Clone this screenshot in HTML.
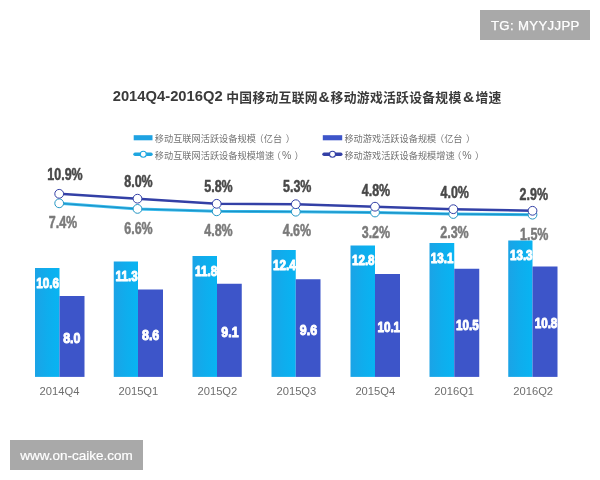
<!DOCTYPE html>
<html lang="zh"><head><meta charset="utf-8"><title>chart</title>
<style>
html,body{margin:0;padding:0;background:#fff;}
body{width:600px;height:480px;overflow:hidden;position:relative;font-family:"Liberation Sans","Noto Sans CJK SC",sans-serif;}
svg{position:absolute;left:0;top:0;display:block}
.tag{position:absolute;background:#a9a9a9;color:#fff;white-space:nowrap;}
#tg{left:480px;top:10px;width:110px;height:30px;line-height:32px;font-size:12px;text-align:center;}#tg span{display:inline-block;transform:scaleX(1.1);letter-spacing:0.3px;-webkit-text-stroke:0.25px #fff}
#wm{-webkit-text-stroke:0.2px #fff;left:10px;top:440px;width:133px;height:30px;line-height:31px;font-size:13.5px;text-align:center;}
</style></head><body>
<svg width="600" height="480" viewBox="0 0 600 480" font-family="'Liberation Sans','Noto Sans CJK SC',sans-serif">
<defs><linearGradient id="cg" x1="0" x2="1" y1="0" y2="0"><stop offset="0" stop-color="#1ba3e6"/><stop offset="0.5" stop-color="#0faded"/><stop offset="1" stop-color="#08b4f2"/></linearGradient></defs>

<text y="101.6" font-size="12.8" font-weight="bold" fill="#3a3a3a"><tspan x="112.7" y="101.4" font-size="14.3" textLength="110" lengthAdjust="spacingAndGlyphs">2014Q4-2016Q2</tspan><tspan x="226.2" y="101.6" letter-spacing="0.3">中国移动互联网</tspan><tspan x="318.6" font-size="15.5" letter-spacing="0">&amp;</tspan><tspan x="330.6" letter-spacing="0.3">移动游戏活跃设备规模</tspan><tspan x="463" font-size="15.5" letter-spacing="0">&amp;</tspan><tspan x="475.4" letter-spacing="0.3">增速</tspan></text>
<rect x="133.7" y="135.2" width="18.8" height="5.1" fill="#1ea2e2"/>
<text x="154.8" y="142" font-size="9.2" fill="#737373">移动互联网活跃设备规模<tspan dx="-1.3">（</tspan>亿台<tspan dx="3.5">）</tspan></text>
<rect x="322.8" y="135.2" width="19.4" height="5.1" fill="#3d55c9"/>
<text x="344.4" y="142" font-size="9.2" fill="#737373">移动游戏活跃设备规模<tspan dx="-1.3">（</tspan>亿台<tspan dx="3.5">）</tspan></text>
<line x1="135" x2="151" y1="154.2" y2="154.2" stroke="#1ea6e0" stroke-width="3.4" stroke-linecap="round"/><circle cx="143.3" cy="154.2" r="3" fill="#fff" stroke="#1ea6e0" stroke-width="1.1"/>
<text x="154.8" y="158.6" font-size="9.2" fill="#737373">移动互联网活跃设备规模增速<tspan dx="-2.5">（</tspan><tspan font-size="10.5" dx="1">%</tspan><tspan dx="3.2">）</tspan></text>
<line x1="324" x2="340.8" y1="154.2" y2="154.2" stroke="#3340a6" stroke-width="3.4" stroke-linecap="round"/><circle cx="332.5" cy="154.2" r="3" fill="#fff" stroke="#3340a6" stroke-width="1.1"/>
<text x="344.4" y="158.6" font-size="9.2" fill="#737373">移动游戏活跃设备规模增速<tspan dx="-2.5">（</tspan><tspan font-size="10.5" dx="1">%</tspan><tspan dx="3.2">）</tspan></text>
<rect x="35" y="268" width="24.5" height="108.89999999999998" fill="url(#cg)"/>
<rect x="59.5" y="296" width="25.0" height="80.89999999999998" fill="#3d55c9"/>
<rect x="113.75" y="261.5" width="24.25" height="115.39999999999998" fill="url(#cg)"/>
<rect x="138" y="289.5" width="25" height="87.39999999999998" fill="#3d55c9"/>
<rect x="192.5" y="256" width="24.5" height="120.89999999999998" fill="url(#cg)"/>
<rect x="217" y="283.75" width="24.75" height="93.14999999999998" fill="#3d55c9"/>
<rect x="271.5" y="250" width="24.25" height="126.89999999999998" fill="url(#cg)"/>
<rect x="295.75" y="279.25" width="24.75" height="97.64999999999998" fill="#3d55c9"/>
<rect x="350.5" y="245.5" width="24.5" height="131.39999999999998" fill="url(#cg)"/>
<rect x="375" y="274" width="25" height="102.89999999999998" fill="#3d55c9"/>
<rect x="429.5" y="243" width="24.75" height="133.89999999999998" fill="url(#cg)"/>
<rect x="454.25" y="268.75" width="25.0" height="108.14999999999998" fill="#3d55c9"/>
<rect x="508.25" y="240.5" width="24.25" height="136.39999999999998" fill="url(#cg)"/>
<rect x="532.5" y="266.5" width="25.0" height="110.39999999999998" fill="#3d55c9"/>
<polyline points="59.2,203.3 137.5,208.9 216.7,211.3 295.8,211.7 375,212.5 453.3,214 532.5,214.7" fill="none" stroke="#3dbdee" stroke-width="3.0" stroke-linejoin="round"/>
<polyline points="59.2,203.3 137.5,208.9 216.7,211.3 295.8,211.7 375,212.5 453.3,214 532.5,214.7" fill="none" stroke="#1b94c8" stroke-width="1.3" stroke-linejoin="round"/>
<circle cx="59.2" cy="203.3" r="4.4" fill="#fff" stroke="#2496c4" stroke-width="1"/>
<circle cx="137.5" cy="208.9" r="4.4" fill="#fff" stroke="#2496c4" stroke-width="1"/>
<circle cx="216.7" cy="211.3" r="4.4" fill="#fff" stroke="#2496c4" stroke-width="1"/>
<circle cx="295.8" cy="211.7" r="4.4" fill="#fff" stroke="#2496c4" stroke-width="1"/>
<circle cx="375" cy="212.5" r="4.4" fill="#fff" stroke="#2496c4" stroke-width="1"/>
<circle cx="453.3" cy="214" r="4.4" fill="#fff" stroke="#2496c4" stroke-width="1"/>
<circle cx="532.5" cy="214.7" r="4.4" fill="#fff" stroke="#2496c4" stroke-width="1"/>
<polyline points="59.2,193.8 137.5,198.7 216.7,203.8 295.8,204.2 375,206.7 453.3,209.2 532.5,210.8" fill="none" stroke="#3340a6" stroke-width="2.5" stroke-linejoin="round"/>
<circle cx="59.2" cy="193.8" r="4.4" fill="#fff" stroke="#3340a6" stroke-width="1"/>
<circle cx="137.5" cy="198.7" r="4.4" fill="#fff" stroke="#3340a6" stroke-width="1"/>
<circle cx="216.7" cy="203.8" r="4.4" fill="#fff" stroke="#3340a6" stroke-width="1"/>
<circle cx="295.8" cy="204.2" r="4.4" fill="#fff" stroke="#3340a6" stroke-width="1"/>
<circle cx="375" cy="206.7" r="4.4" fill="#fff" stroke="#3340a6" stroke-width="1"/>
<circle cx="453.3" cy="209.2" r="4.4" fill="#fff" stroke="#3340a6" stroke-width="1"/>
<circle cx="532.5" cy="210.8" r="4.4" fill="#fff" stroke="#3340a6" stroke-width="1"/>
<text transform="translate(65.0,180) scale(0.79,1)" text-anchor="middle" font-size="15.8" font-weight="bold" fill="#484848" stroke="#484848" stroke-width="0.5" stroke-linejoin="round">10.9%</text>
<text transform="translate(138.5,186.5) scale(0.79,1)" text-anchor="middle" font-size="15.8" font-weight="bold" fill="#484848" stroke="#484848" stroke-width="0.5" stroke-linejoin="round">8.0%</text>
<text transform="translate(218.5,192.3) scale(0.79,1)" text-anchor="middle" font-size="15.8" font-weight="bold" fill="#484848" stroke="#484848" stroke-width="0.5" stroke-linejoin="round">5.8%</text>
<text transform="translate(297.2,192.3) scale(0.79,1)" text-anchor="middle" font-size="15.8" font-weight="bold" fill="#484848" stroke="#484848" stroke-width="0.5" stroke-linejoin="round">5.3%</text>
<text transform="translate(376.0,196) scale(0.79,1)" text-anchor="middle" font-size="15.8" font-weight="bold" fill="#484848" stroke="#484848" stroke-width="0.5" stroke-linejoin="round">4.8%</text>
<text transform="translate(454.7,198) scale(0.79,1)" text-anchor="middle" font-size="15.8" font-weight="bold" fill="#484848" stroke="#484848" stroke-width="0.5" stroke-linejoin="round">4.0%</text>
<text transform="translate(533.8,200) scale(0.79,1)" text-anchor="middle" font-size="15.8" font-weight="bold" fill="#484848" stroke="#484848" stroke-width="0.5" stroke-linejoin="round">2.9%</text>
<text transform="translate(63.0,227.7) scale(0.79,1)" text-anchor="middle" font-size="15.8" font-weight="bold" fill="#7a7a7a" stroke="#7a7a7a" stroke-width="0.5" stroke-linejoin="round">7.4%</text>
<text transform="translate(138.5,233.5) scale(0.79,1)" text-anchor="middle" font-size="15.8" font-weight="bold" fill="#7a7a7a" stroke="#7a7a7a" stroke-width="0.5" stroke-linejoin="round">6.6%</text>
<text transform="translate(218.5,236) scale(0.79,1)" text-anchor="middle" font-size="15.8" font-weight="bold" fill="#7a7a7a" stroke="#7a7a7a" stroke-width="0.5" stroke-linejoin="round">4.8%</text>
<text transform="translate(296.9,236) scale(0.79,1)" text-anchor="middle" font-size="15.8" font-weight="bold" fill="#7a7a7a" stroke="#7a7a7a" stroke-width="0.5" stroke-linejoin="round">4.6%</text>
<text transform="translate(375.9,237.7) scale(0.79,1)" text-anchor="middle" font-size="15.8" font-weight="bold" fill="#7a7a7a" stroke="#7a7a7a" stroke-width="0.5" stroke-linejoin="round">3.2%</text>
<text transform="translate(454.5,238.3) scale(0.79,1)" text-anchor="middle" font-size="15.8" font-weight="bold" fill="#7a7a7a" stroke="#7a7a7a" stroke-width="0.5" stroke-linejoin="round">2.3%</text>
<text transform="translate(534.2,240) scale(0.79,1)" text-anchor="middle" font-size="15.8" font-weight="bold" fill="#7a7a7a" stroke="#7a7a7a" stroke-width="0.5" stroke-linejoin="round">1.5%</text>
<text transform="translate(47.6,288.0) scale(0.79,1)" text-anchor="middle" font-size="14.8" font-weight="bold" fill="#fff" stroke="#fff" stroke-width="1.0" stroke-linejoin="round">10.6</text>
<text transform="translate(126.6,280.95) scale(0.79,1)" text-anchor="middle" font-size="14.8" font-weight="bold" fill="#fff" stroke="#fff" stroke-width="1.0" stroke-linejoin="round">11.3</text>
<text transform="translate(206.1,275.95) scale(0.79,1)" text-anchor="middle" font-size="14.8" font-weight="bold" fill="#fff" stroke="#fff" stroke-width="1.0" stroke-linejoin="round">11.8</text>
<text transform="translate(284.4,269.7) scale(0.79,1)" text-anchor="middle" font-size="14.8" font-weight="bold" fill="#fff" stroke="#fff" stroke-width="1.0" stroke-linejoin="round">12.4</text>
<text transform="translate(363.25,265.45) scale(0.79,1)" text-anchor="middle" font-size="14.8" font-weight="bold" fill="#fff" stroke="#fff" stroke-width="1.0" stroke-linejoin="round">12.8</text>
<text transform="translate(442.1,262.95) scale(0.79,1)" text-anchor="middle" font-size="14.8" font-weight="bold" fill="#fff" stroke="#fff" stroke-width="1.0" stroke-linejoin="round">13.1</text>
<text transform="translate(521.25,260.2) scale(0.79,1)" text-anchor="middle" font-size="14.8" font-weight="bold" fill="#fff" stroke="#fff" stroke-width="1.0" stroke-linejoin="round">13.3</text>
<text transform="translate(71.8,343.0) scale(0.84,1)" text-anchor="middle" font-size="14.8" font-weight="bold" fill="#fff" stroke="#fff" stroke-width="1.0" stroke-linejoin="round">8.0</text>
<text transform="translate(150.6,339.7) scale(0.84,1)" text-anchor="middle" font-size="14.8" font-weight="bold" fill="#fff" stroke="#fff" stroke-width="1.0" stroke-linejoin="round">8.6</text>
<text transform="translate(230,337.2) scale(0.84,1)" text-anchor="middle" font-size="14.8" font-weight="bold" fill="#fff" stroke="#fff" stroke-width="1.0" stroke-linejoin="round">9.1</text>
<text transform="translate(308.5,334.7) scale(0.84,1)" text-anchor="middle" font-size="14.8" font-weight="bold" fill="#fff" stroke="#fff" stroke-width="1.0" stroke-linejoin="round">9.6</text>
<text transform="translate(388.75,332.2) scale(0.79,1)" text-anchor="middle" font-size="14.8" font-weight="bold" fill="#fff" stroke="#fff" stroke-width="1.0" stroke-linejoin="round">10.1</text>
<text transform="translate(467.4,329.7) scale(0.79,1)" text-anchor="middle" font-size="14.8" font-weight="bold" fill="#fff" stroke="#fff" stroke-width="1.0" stroke-linejoin="round">10.5</text>
<text transform="translate(546,327.7) scale(0.79,1)" text-anchor="middle" font-size="14.8" font-weight="bold" fill="#fff" stroke="#fff" stroke-width="1.0" stroke-linejoin="round">10.8</text>
<text x="59.5" y="395.2" text-anchor="middle" font-size="11.2" fill="#6e6e6e">2014Q4</text>
<text x="138.4" y="395.2" text-anchor="middle" font-size="11.2" fill="#6e6e6e">2015Q1</text>
<text x="217.4" y="395.2" text-anchor="middle" font-size="11.2" fill="#6e6e6e">2015Q2</text>
<text x="296.4" y="395.2" text-anchor="middle" font-size="11.2" fill="#6e6e6e">2015Q3</text>
<text x="375.3" y="395.2" text-anchor="middle" font-size="11.2" fill="#6e6e6e">2015Q4</text>
<text x="454.2" y="395.2" text-anchor="middle" font-size="11.2" fill="#6e6e6e">2016Q1</text>
<text x="533.2" y="395.2" text-anchor="middle" font-size="11.2" fill="#6e6e6e">2016Q2</text>
</svg>
<div class="tag" id="tg"><span>TG: MYYJJPP</span></div>
<div class="tag" id="wm">www.on-caike.com</div>
</body></html>
